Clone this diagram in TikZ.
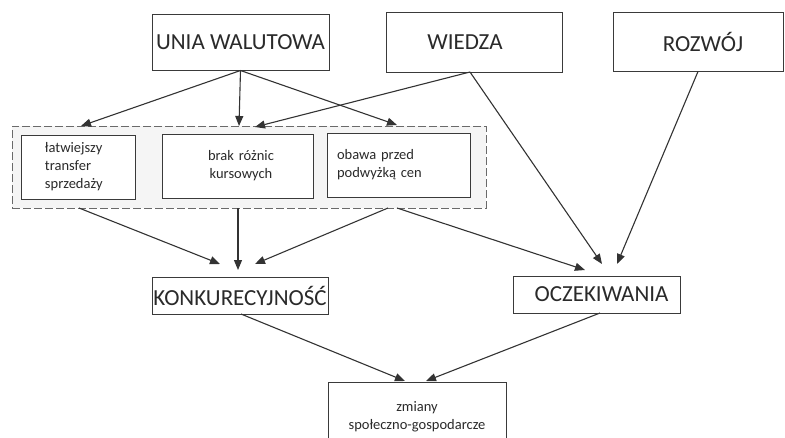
\documentclass[tikz,border=0pt]{standalone}
\usepackage{fontspec}
\setmainfont{Carlito}
\usetikzlibrary{arrows.meta}
\definecolor{linec}{HTML}{333333}
\definecolor{boxc}{HTML}{3A3A3A}
\definecolor{dashc}{HTML}{6A6A6A}
\definecolor{grpfill}{HTML}{F5F5F5}
\definecolor{txtc}{HTML}{2A2A2A}
\tikzset{
  bigbox/.style={draw=boxc, line width=1pt, fill=white, rectangle, inner sep=0pt,
    text=txtc, font=\fontsize{23}{26}\selectfont},
  smallbox/.style={draw=boxc, line width=1pt, fill=white, rectangle, inner sep=0pt,
    text=txtc, font=\fontsize{14.5}{18}\selectfont},
  groupbox/.style={draw=dashc, line width=1pt, dash pattern=on 8pt off 3pt, fill=grpfill,
    rectangle, inner sep=0pt},
  arr/.style={draw=linec, line width=1.1pt, -{Triangle[length=10pt,width=8pt]}},
}
\begin{document}
\begin{tikzpicture}[x=1pt,y=-1pt]
\clip (0,0) rectangle (785,437);
\fill[white] (0,0) rectangle (785,437);

% top boxes
\node[bigbox, minimum width=177pt, minimum height=56pt] (unia) at (240.5,42) {UNIA WALUTOWA};
\node[bigbox, minimum width=176pt, minimum height=60pt] (wiedza) at (474,42) {WIEDZA\hspace*{18pt}};
\node[bigbox, minimum width=170pt, minimum height=59pt] (rozwoj) at (698,42) {\hspace*{10pt}ROZWÓJ};

% dashed group
\node[groupbox, minimum width=474pt, minimum height=82pt] (group) at (249,167) {};
\node[smallbox, minimum width=114pt, minimum height=64pt, text width=66pt, align=left] (b1) at (78,167) {łatwiejszy\\transfer\\sprzedaży};
\node[smallbox, minimum width=151pt, minimum height=64pt, text width=151pt, align=center] (b2) at (237.5,166) {\hspace*{7pt}brak różnic\\\hspace*{7pt}kursowych};
\node[smallbox, minimum width=143pt, minimum height=64pt, text width=123pt, align=left] (b3) at (398.5,165) {obawa przed\\podwyżką cen};

% middle boxes
\node[bigbox, minimum width=176pt, minimum height=37pt] (konk) at (240,295.5) {KONKURECYJNOŚĆ};
\node[bigbox, minimum width=167pt, minimum height=37pt] (oczek) at (596.5,294.5) {\hspace*{10pt}OCZEKIWANIA};

% bottom box
\node[smallbox, minimum width=178pt, minimum height=70pt, text width=178pt, align=center] (zmiany) at (417,417) {zmiany\hspace*{20pt}\\społeczno-gospodarcze};

% arrow tip coordinates
\coordinate (t1) at (81,126);
\coordinate (t2) at (239,126);
\coordinate (t3) at (397,125);
\coordinate (t4) at (255,127);
\coordinate (t5) at (602,264);
\coordinate (t6) at (617,264);
\coordinate (t7) at (220,264);
\coordinate (t8) at (238,270);
\coordinate (t9) at (255,264);
\coordinate (t10) at (585,270);
\coordinate (t11) at (405,381);
\coordinate (t12) at (426,381);

% start coordinates on borders
\coordinate (sw) at (470,72);
\coordinate (sr) at (698,71.5);
\coordinate (g1) at (79,208);
\coordinate (g2) at (238,208);
\coordinate (g3) at (388,208);
\coordinate (g4) at (397,208);
\coordinate (sk) at (241,314);
\coordinate (so) at (600,313);

\draw[arr] (unia.south) -- (t1);
\draw[arr] (unia.south) -- (t2);
\draw[arr] (unia.south) -- (t3);
\draw[arr] (sw) -- (t4);
\draw[arr] (sw) -- (t5);
\draw[arr] (sr) -- (t6);
\draw[arr] (g1) -- (t7);
\draw[arr] (g2) -- (t8);
\draw[arr] (g3) -- (t9);
\draw[arr] (g4) -- (t10);
\draw[arr] (sk) -- (t11);
\draw[arr] (so) -- (t12);
\end{tikzpicture}
\end{document}
